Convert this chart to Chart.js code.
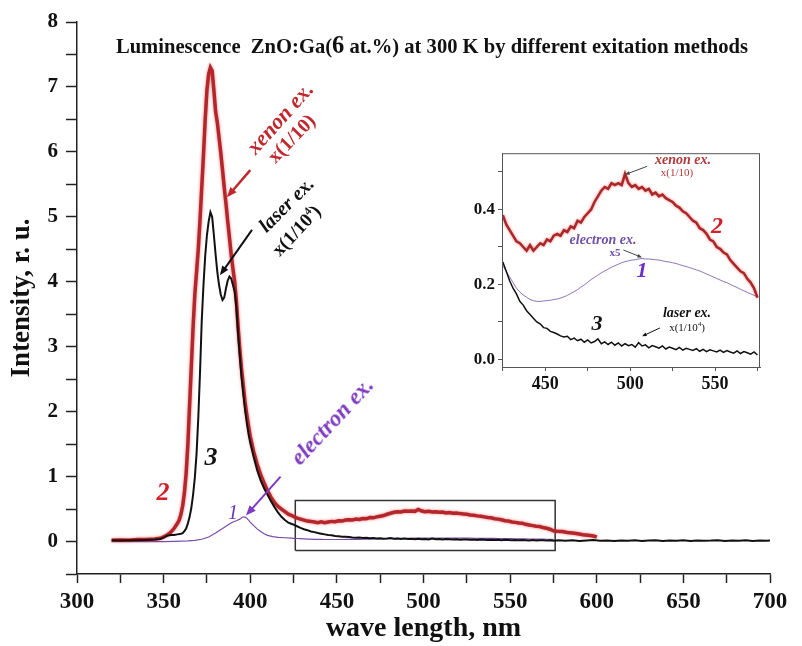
<!DOCTYPE html>
<html lang="en">
<head>
  <meta charset="UTF-8">
  <title>Luminescence ZnO:Ga</title>
  <style>
    body {
      margin: 0;
      padding: 0;
      background: #fff;
    }
    .wrap {
      position: relative;
      width: 802px;
      height: 646px;
      overflow: hidden;
      background: #fff;
      font-family: "Liberation Serif", "Times New Roman", serif;
    }
    #mainChart { position: absolute; left: 0; top: 0; }
    #insetChart { position: absolute; left: 455px; top: 140px; }
    .lbl {
      position: absolute;
      white-space: nowrap;
      font-weight: bold;
      line-height: 1;
    }
    .it { font-style: italic; }
    .title {
      position: absolute;
      left: 432px;
      top: 45px;
      transform: translate(-50%, -50%) scaleX(0.98);
      font-weight: bold;
      font-size: 21px;
      white-space: nowrap;
      color: #111;
    }
    .title .big { font-size: 25px; }
    sup { font-size: 0.6em; }
  </style>
  <script src="https://cdn.jsdelivr.net/npm/chart.js"></script>
</head>
<body>
  <div class="wrap">
    <canvas id="mainChart" width="802" height="646"></canvas>
    <canvas id="insetChart" width="320" height="260"></canvas>

    <div class="title">Luminescence&nbsp; ZnO:Ga(<span class="big">6</span> at.%) at 300 K by different exitation methods</div>

    <!-- main chart labels -->
    <div class="lbl it" style="left:280px;top:118px;font-size:22px;color:#c0282d;transform:translate(-50%,-50%) rotate(-48deg)">xenon ex.</div>
    <div class="lbl" style="left:291px;top:138px;font-size:20px;color:#c0282d;transform:translate(-50%,-50%) rotate(-46deg)">x(1/10)</div>
    <div class="lbl it" style="left:286px;top:204px;font-size:20px;color:#111;transform:translate(-50%,-50%) rotate(-45deg)">laser ex.</div>
    <div class="lbl" style="left:296px;top:230px;font-size:19px;color:#111;transform:translate(-50%,-50%) rotate(-47deg)">x(1/10<sup>4</sup>)</div>
    <div class="lbl it" style="left:332px;top:421px;font-size:23px;color:#7d3cc0;transform:translate(-50%,-50%) rotate(-47deg)">electron ex.</div>
    <div class="lbl it" style="left:163px;top:492px;font-size:26px;color:#d0202a;transform:translate(-50%,-50%)">2</div>
    <div class="lbl it" style="left:211px;top:457px;font-size:26px;color:#111;transform:translate(-50%,-50%)">3</div>
    <div class="lbl it" style="left:233px;top:512px;font-size:20px;color:#6a30c0;font-weight:normal;transform:translate(-50%,-50%)">1</div>

    <!-- inset labels -->
    <div class="lbl it" style="left:683px;top:160px;font-size:14px;color:#b03a3a;transform:translate(-50%,-50%)">xenon ex.</div>
    <div class="lbl" style="left:677px;top:172px;font-size:11px;color:#b03a3a;font-weight:normal;transform:translate(-50%,-50%)">x(1/10)</div>
    <div class="lbl it" style="left:717px;top:225px;font-size:24px;color:#d0202a;transform:translate(-50%,-50%)">2</div>
    <div class="lbl it" style="left:603px;top:240px;font-size:14px;color:#7050a8;transform:translate(-50%,-50%)">electron ex.</div>
    <div class="lbl" style="left:615px;top:252px;font-size:11px;color:#7050a8;transform:translate(-50%,-50%)">x5</div>
    <div class="lbl it" style="left:642px;top:270px;font-size:22px;color:#6a30c8;transform:translate(-50%,-50%)">1</div>
    <div class="lbl it" style="left:687px;top:313px;font-size:14px;color:#111;transform:translate(-50%,-50%)">laser ex.</div>
    <div class="lbl" style="left:687px;top:327px;font-size:11px;color:#111;font-weight:normal;transform:translate(-50%,-50%)">x(1/10<sup>4</sup>)</div>
    <div class="lbl it" style="left:597px;top:323px;font-size:22px;color:#111;transform:translate(-50%,-50%)">3</div>
  </div>

  <script>
    // ---- main spectrum around the exciton peak (nm, r.u.) ----
    const xenonPeakNm = [320, 325, 330, 335, 340, 345, 348, 350, 352, 354, 356, 358,
      359, 360, 361, 362, 363, 364, 365, 366, 367, 368, 369, 370, 371, 372, 373, 374, 375, 376, 377, 378, 379,
      380, 381, 382, 383, 384, 385, 386, 387, 388, 389, 390, 391, 392, 393, 394, 395, 396, 397, 398, 399, 400,
      402, 404, 406, 408, 410, 412, 414, 416, 418, 420, 422, 424];
    const xenonPeakVal = [0.02, 0.025, 0.02, 0.03, 0.03, 0.04, 0.05, 0.07, 0.1, 0.14, 0.2, 0.28,
      0.33, 0.42, 0.55, 0.75, 1.05, 1.5, 2.1, 2.7, 3.3, 3.8, 4.15, 4.5, 4.95, 5.45, 5.95, 6.5, 6.95, 7.2, 7.3, 7.25, 6.95,
      6.62, 6.45, 6.22, 5.98, 5.72, 5.45, 5.2, 4.93, 4.68, 4.42, 4.2, 4.0, 3.7, 3.3, 2.95, 2.65, 2.4, 2.15, 1.95, 1.78, 1.62,
      1.38, 1.19, 1.03, 0.9, 0.78, 0.68, 0.6, 0.54, 0.5, 0.46, 0.42, 0.4];

    const laserPeakNm = [320, 325, 330, 335, 340, 345, 348, 350, 352, 354, 356, 358,
      360, 361, 362, 363, 364, 365, 366, 367, 368, 369, 370, 371, 372, 373, 374, 375, 376, 377, 378, 379,
      380, 381, 382, 383, 384, 385, 386, 387, 388, 389, 390, 391, 392, 393, 394, 395, 396, 397, 398, 399, 400,
      402, 404, 406, 408, 410, 412, 414, 416, 418, 420, 422, 424];
    const laserPeakVal = [0.02, 0.015, 0.02, 0.02, 0.025, 0.03, 0.04, 0.06, 0.09, 0.1, 0.1, 0.11,
      0.12, 0.13, 0.16, 0.2, 0.28, 0.38, 0.52, 0.72, 0.98, 1.35, 1.9, 2.6, 3.4, 3.95, 4.4, 4.72, 4.93, 5.07, 5.0, 4.72,
      4.42, 4.15, 3.95, 3.8, 3.72, 3.76, 3.9, 4.02, 4.08, 4.05, 3.95, 3.85, 3.6, 3.2, 2.85, 2.52, 2.27, 2.03, 1.83, 1.66, 1.52,
      1.3, 1.1, 0.94, 0.82, 0.72, 0.62, 0.53, 0.45, 0.38, 0.33, 0.29, 0.27];

    const electronPeakNm = [320, 330, 340, 350, 356, 360, 364, 368, 372, 376,
      380, 384, 388, 390, 392, 394, 395, 396, 397, 398,
      400, 402, 404, 406, 408, 410, 413, 416, 420, 424];
    const electronPeakVal = [0, 0, 0, 0, 0.002, 0.005, 0.01, 0.018, 0.035, 0.07,
      0.13, 0.2, 0.27, 0.3, 0.32, 0.345, 0.365, 0.38, 0.375, 0.36,
      0.3, 0.245, 0.195, 0.155, 0.12, 0.095, 0.075, 0.065, 0.058, 0.052];

    // ---- zoomed region 425-575 nm (inset values, electron curve shown x5) ----
    const insetNm = [425, 427, 429, 431, 433, 435, 437, 439, 441, 443,
      445, 447, 449, 451, 453, 455, 457, 459, 461, 463,
      465, 467, 469, 471, 473, 475, 477, 479, 481, 483,
      485, 487, 489, 491, 493, 495, 497, 499, 501, 503,
      505, 507, 509, 511, 513, 515, 517, 519, 521, 523,
      525, 527, 529, 531, 533, 535, 537, 539, 541, 543,
      545, 547, 549, 551, 553, 555, 557, 559, 561, 563,
      565, 567, 569, 571, 573, 575];
    const insetXenon = [0.385, 0.36, 0.345, 0.33, 0.315, 0.31, 0.30, 0.29, 0.305, 0.29,
      0.30, 0.31, 0.305, 0.32, 0.315, 0.33, 0.335, 0.33, 0.345, 0.34,
      0.355, 0.35, 0.37, 0.365, 0.38, 0.39, 0.40, 0.42, 0.435, 0.45,
      0.46, 0.455, 0.47, 0.465, 0.47, 0.465, 0.495, 0.47, 0.46, 0.465,
      0.455, 0.46, 0.45, 0.455, 0.44, 0.445, 0.435, 0.44, 0.43, 0.425,
      0.42, 0.41, 0.405, 0.395, 0.39, 0.38, 0.37, 0.365, 0.35, 0.345,
      0.335, 0.32, 0.315, 0.30, 0.295, 0.285, 0.28, 0.265, 0.255, 0.245,
      0.235, 0.23, 0.215, 0.205, 0.19, 0.165];
    const insetElectron = [0.25, 0.235, 0.22, 0.205, 0.19, 0.18, 0.172, 0.166, 0.16, 0.157,
      0.155, 0.155, 0.156, 0.157, 0.158, 0.16, 0.161, 0.164, 0.167, 0.171,
      0.176, 0.181, 0.186, 0.193, 0.199, 0.206, 0.213, 0.219, 0.225, 0.231,
      0.236, 0.241, 0.246, 0.25, 0.254, 0.258, 0.261, 0.263, 0.265, 0.266,
      0.268, 0.269, 0.268, 0.268, 0.267, 0.266, 0.265, 0.263, 0.261, 0.26,
      0.258, 0.256, 0.253, 0.25, 0.248, 0.245, 0.242, 0.239, 0.236, 0.232,
      0.228, 0.224, 0.22, 0.216, 0.212, 0.208, 0.205, 0.2, 0.196, 0.192,
      0.187, 0.183, 0.179, 0.175, 0.171, 0.167];
    const insetLaser = [0.26, 0.235, 0.21, 0.19, 0.175, 0.155, 0.145, 0.13, 0.12, 0.11,
      0.1, 0.095, 0.085, 0.083, 0.075, 0.072, 0.068, 0.063, 0.06, 0.062,
      0.053, 0.057, 0.05, 0.054, 0.046, 0.052, 0.044, 0.048, 0.055, 0.042,
      0.047, 0.04, 0.046, 0.038, 0.044, 0.036, 0.042, 0.037, 0.04, 0.033,
      0.045, 0.036, 0.039, 0.031, 0.037, 0.034, 0.03, 0.036, 0.028, 0.033,
      0.03, 0.026, 0.032, 0.025, 0.03, 0.027, 0.024, 0.029, 0.022, 0.027,
      0.021, 0.026, 0.023, 0.02, 0.025, 0.019, 0.024, 0.02, 0.017, 0.023,
      0.016, 0.021, 0.018, 0.014, 0.02, 0.012];
    const electronScale = 5;

    // ---- long-wave tails of the main spectrum ----
    const xenonTailNm = [577, 580, 583, 586, 589, 592, 595, 598, 600];
    const xenonTailVal = [0.16, 0.155, 0.14, 0.13, 0.12, 0.105, 0.095, 0.085, 0.07];
    const laserTailNm = [578, 582, 586, 590, 594, 598, 602, 606, 610, 614, 618, 622, 626, 630, 634, 638,
      642, 646, 650, 654, 658, 662, 666, 670, 674, 678, 682, 686, 690, 694, 698, 700];
    const laserTailVal = [0.02, 0.012, 0.018, 0.01, 0.016, 0.022, 0.011, 0.015, 0.009, 0.017, 0.013, 0.02, 0.01, 0.014, 0.018, 0.008,
      0.015, 0.012, 0.019, 0.01, 0.016, 0.011, 0.014, 0.02, 0.009, 0.015, 0.012, 0.018, 0.01, 0.014, 0.012, 0.015];

    // frame marking the zoomed region on the main plot
    const boxNm = [426, 576, 576, 426, 426];
    const boxVal = [-0.14, -0.14, 0.63, 0.63, -0.14];

    // axis ranges / ticks
    const mainX = { min: 300, max: 700, step: 25, label: 50 };
    const mainY = { min: -0.5, max: 8, step: 0.5 };
    const insetX = { min: 424.5, max: 576.5, step: 25, label: 50 };
    const insetY = { min: -0.02, max: 0.55, step: 0.1 };

    const SERIF = '"Liberation Serif", "Times New Roman", serif';
    const RED = '#b3272c';

    function pts(xs, ys, k) {
      return xs.map((x, i) => ({ x: x, y: ys[i] * (k || 1) }));
    }

    const arrowPlugin = {
      id: 'arrows',
      afterDatasetsDraw(chart, args, opts) {
        const ctx = chart.ctx, sx = chart.scales.x, sy = chart.scales.y;
        (opts.list || []).forEach(a => {
          const x1 = sx.getPixelForValue(a.from[0]), y1 = sy.getPixelForValue(a.from[1]);
          const x2 = sx.getPixelForValue(a.to[0]), y2 = sy.getPixelForValue(a.to[1]);
          const ang = Math.atan2(y2 - y1, x2 - x1);
          ctx.save();
          ctx.strokeStyle = a.color;
          ctx.fillStyle = a.color;
          ctx.lineWidth = a.width;
          ctx.beginPath();
          ctx.moveTo(x1, y1);
          ctx.lineTo(x2 - a.head * 0.7 * Math.cos(ang), y2 - a.head * 0.7 * Math.sin(ang));
          ctx.stroke();
          ctx.beginPath();
          ctx.moveTo(x2, y2);
          ctx.lineTo(x2 - a.head * Math.cos(ang - 0.38), y2 - a.head * Math.sin(ang - 0.38));
          ctx.lineTo(x2 - a.head * Math.cos(ang + 0.38), y2 - a.head * Math.sin(ang + 0.38));
          ctx.closePath();
          ctx.fill();
          ctx.restore();
        });
      }
    };

    // soft halo under the red curve
    const glowPlugin = {
      id: 'glow',
      beforeDatasetDraw(chart, args) {
        const ds = chart.data.datasets[args.index];
        if (ds.glow) {
          chart.ctx.save();
          chart.ctx.shadowColor = ds.glow;
          chart.ctx.shadowBlur = 3;
        }
      },
      afterDatasetDraw(chart, args) {
        if (chart.data.datasets[args.index].glow) chart.ctx.restore();
      }
    };

    const framePlugin = {
      id: 'frame',
      afterDraw(chart, args, opts) {
        if (!opts.show) return;
        const a = chart.chartArea, ctx = chart.ctx;
        ctx.save();
        ctx.strokeStyle = '#555';
        ctx.lineWidth = 1;
        ctx.strokeRect(a.left + 0.5, a.top + 0.5, a.right - a.left - 1, a.bottom - a.top);
        ctx.restore();
      }
    };

    // ---------- main chart ----------
    const mainXenon = pts(xenonPeakNm, xenonPeakVal).concat(pts(insetNm, insetXenon), pts(xenonTailNm, xenonTailVal));
    const mainLaser = pts(laserPeakNm, laserPeakVal).concat(pts(insetNm, insetLaser), pts(laserTailNm, laserTailVal));
    const mainElectron = pts(electronPeakNm, electronPeakVal).concat(pts(insetNm, insetElectron, 1 / electronScale));

    new Chart(document.getElementById('mainChart'), {
      type: 'scatter',
      data: {
        datasets: [
          { label: 'laser ex.', data: mainLaser, showLine: true, borderColor: '#111', borderWidth: 2 },
          { label: 'xenon ex.', data: mainXenon, showLine: true, borderColor: RED, borderWidth: 3.5, glow: 'rgba(235,40,40,0.6)' },
          { label: 'electron ex.', data: mainElectron, showLine: true, borderColor: '#7a4ca8', borderWidth: 1.2 },
          { label: 'zoom', data: pts(boxNm, boxVal), showLine: true, borderColor: '#333', borderWidth: 1.5 }
        ]
      },
      options: {
        responsive: false,
        animation: false,
        layout: { padding: { left: 0, right: 32, top: 22, bottom: 0 } },
        elements: { point: { radius: 0 }, line: { tension: 0 } },
        plugins: {
          legend: { display: false },
          tooltip: { enabled: false },
          arrows: {
            list: [
              { from: [400, 5.72], to: [386.5, 5.3], color: '#c0282d', width: 2.5, head: 11 },
              { from: [401, 4.8], to: [382.5, 4.1], color: '#111', width: 2, head: 10 },
              { from: [417.5, 1.0], to: [397.5, 0.4], color: '#7d3cc0', width: 2, head: 11 }
            ]
          }
        },
        scales: {
          x: {
            type: 'linear', min: mainX.min, max: mainX.max,
            border: { display: true, color: '#222', width: 1.5 },
            grid: { drawOnChartArea: false, tickLength: 9, color: '#222', tickWidth: 1.5 },
            ticks: {
              stepSize: mainX.step, autoSkip: false, maxRotation: 0, padding: 5, color: '#111',
              font: { family: SERIF, size: 23, weight: 'bold' },
              callback: v => (v % mainX.label === 0 ? v : '')
            },
            title: { display: true, text: 'wave length, nm', color: '#111', font: { family: SERIF, size: 28, weight: 'bold' }, padding: { top: 0, bottom: 0 } },
            afterFit: s => { s.height = 72; }
          },
          y: {
            type: 'linear', min: mainY.min, max: mainY.max,
            border: { display: true, color: '#222', width: 1.5 },
            grid: { drawOnChartArea: false, tickLength: 11, color: '#222', tickWidth: 1.5 },
            ticks: {
              stepSize: mainY.step, autoSkip: false, padding: 8, color: '#111',
              font: { family: SERIF, size: 21, weight: 'bold' },
              callback: v => (Number.isInteger(v) ? v : '')
            },
            title: { display: true, text: 'Intensity, r. u.', color: '#111', font: { family: SERIF, size: 27, weight: 'bold' }, padding: { top: 6, bottom: 0 } },
            afterFit: s => { s.width = 77; }
          }
        }
      },
      plugins: [arrowPlugin, glowPlugin]
    });

    // ---------- inset ----------
    new Chart(document.getElementById('insetChart'), {
      type: 'scatter',
      data: {
        datasets: [
          { label: 'laser ex.', data: pts(insetNm, insetLaser), showLine: true, borderColor: '#111', borderWidth: 1.5 },
          { label: 'xenon ex.', data: pts(insetNm, insetXenon), showLine: true, borderColor: '#a8282a', borderWidth: 2.5, glow: 'rgba(235,40,40,0.6)' },
          { label: 'electron ex. x5', data: pts(insetNm, insetElectron), showLine: true, borderColor: '#8e72b8', borderWidth: 1 }
        ]
      },
      options: {
        responsive: false,
        animation: false,
        layout: { padding: { left: 0, right: 15, top: 9, bottom: 0 } },
        elements: { point: { radius: 0 }, line: { tension: 0 } },
        plugins: {
          legend: { display: false },
          tooltip: { enabled: false },
          frame: { show: true },
          arrows: {
            list: [
              { from: [510, 0.515], to: [497, 0.493], color: '#444', width: 1, head: 5 },
              { from: [496, 0.292], to: [507, 0.272], color: '#444', width: 1, head: 5 },
              { from: [517.5, 0.084], to: [507, 0.062], color: '#111', width: 1, head: 5 }
            ]
          }
        },
        scales: {
          x: {
            type: 'linear', min: insetX.min, max: insetX.max,
            border: { display: true, color: '#555', width: 1 },
            grid: { drawOnChartArea: false, tickLength: 4, color: '#555' },
            ticks: {
              stepSize: insetX.step, includeBounds: false, autoSkip: false, maxRotation: 0, padding: 3, color: '#111',
              font: { family: SERIF, size: 18, weight: 'bold' },
              callback: v => (v % insetX.label === 0 ? v : '')
            },
            afterFit: s => { s.height = 33; }
          },
          y: {
            type: 'linear', min: insetY.min, max: insetY.max,
            border: { display: true, color: '#555', width: 1 },
            grid: { drawOnChartArea: false, tickLength: 4, color: '#555' },
            ticks: {
              stepSize: insetY.step, includeBounds: false, autoSkip: false, padding: 3, color: '#111',
              font: { family: SERIF, size: 17, weight: 'bold' },
              callback: v => (Math.round(v * 10) % 2 === 0 ? v.toFixed(1) : '')
            },
            afterFit: s => { s.width = 47; }
          }
        }
      },
      plugins: [arrowPlugin, glowPlugin, framePlugin]
    });
  </script>
</body>
</html>
